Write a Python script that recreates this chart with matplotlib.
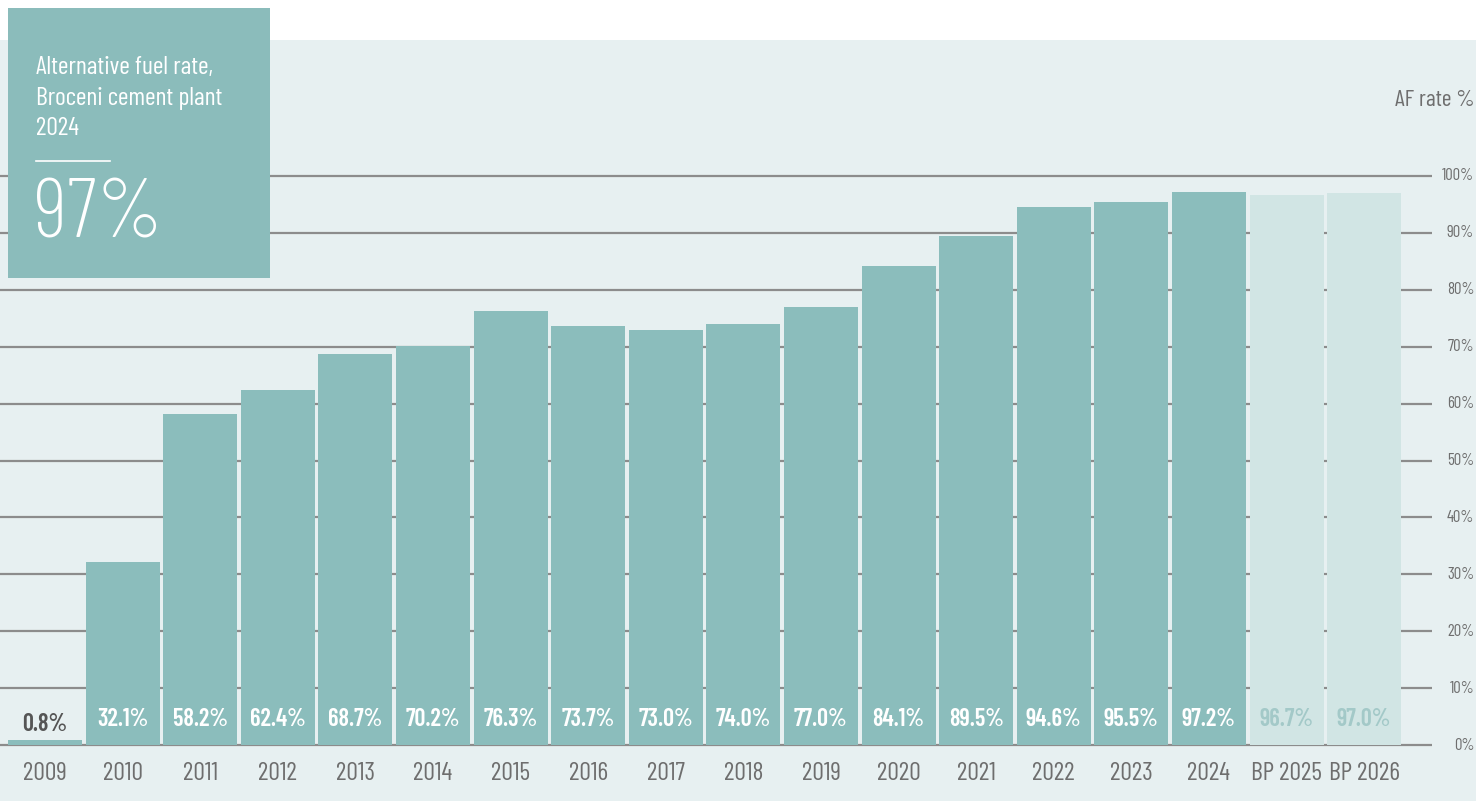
import matplotlib
matplotlib.use('Agg')
import matplotlib.pyplot as plt
from matplotlib.patches import Rectangle

# data
years = ['2009', '2010', '2011', '2012', '2013', '2014', '2015', '2016', '2017',
         '2018', '2019', '2020', '2021', '2022', '2023', '2024', 'BP 2025', 'BP 2026']
af_rate = [0.8, 32.1, 58.2, 62.4, 68.7, 70.2, 76.3, 73.7, 73.0,
           74.0, 77.0, 84.1, 89.5, 94.6, 95.5, 97.2, 96.7, 97.0]
is_plan = [y.startswith('BP') for y in years]
grid_levels = [0, 10, 20, 30, 40, 50, 60, 70, 80, 90, 100]

# colours
BAR = '#8bbdbc'
BAR_PLAN = '#d1e5e4'
PANEL = '#e7f0f1'
GRID = '#8c8c8c'
GREY_TXT = '#6e6e6e'

plt.rcParams['font.family'] = ['Barlow Condensed', 'Roboto Condensed', 'DejaVu Sans']

W, H = 1476, 801
fig = plt.figure(figsize=(W / 100, H / 100), dpi=100)
fig.patch.set_facecolor('white')
ax = fig.add_axes([0, 0, 1, 1])
ax.axis('off')

# pixel mapping: bar centre 0 -> x=45px, step 77.6px ; 0% -> y=745px, 100% -> y=176px
step = 77.6
ypp = (745 - 176) / 100.0
ax.set_xlim(-45 / step, (W - 45) / step)
ax.set_ylim(-(H - 745) / ypp, 745 / ypp)

# background panel
ax.add_patch(Rectangle((0, 0), 1, (H - 40) / H, transform=ax.transAxes,
                       facecolor=PANEL, edgecolor='none', zorder=0))

# grid lines
xr = (1432 - 45) / step
ax.hlines(grid_levels, -45 / step, xr, color=GRID, lw=1.6, zorder=1)
for g in grid_levels:
    ax.text((1474 - 45) / step, g, f'{g}%', ha='right', va='center',
            fontsize=12, color=GREY_TXT, zorder=3)
ax.text((1474 - 45) / step, (745 - 100) / ypp, 'AF rate %', ha='right', va='center',
        fontsize=17, color=GREY_TXT, zorder=3)

# bars
xs = list(range(len(years)))
colors = [BAR_PLAN if p else BAR for p in is_plan]
ax.bar(xs, af_rate, width=0.955, color=colors, zorder=2)

label_y = (745 - 719) / ypp
year_y = -(773 - 745) / ypp
for x, v, p, yr in zip(xs, af_rate, is_plan, years):
    if p:
        c = '#a3c9c8'
    elif v < 5:
        c = '#555555'
    else:
        c = 'white'
    ly = label_y if v >= 5 else v + 0.7
    ax.text(x, ly, f'{v:.1f}%', ha='center', va='bottom' if v < 5 else 'center',
            fontsize=17.5, fontweight=600, color=c, zorder=3)
    ax.text(x, year_y, yr, ha='center', va='center',
            fontsize=18.5, color=GREY_TXT, zorder=3)

# highlight box
ax.add_patch(Rectangle((8 / W, 1 - 278 / H), 262 / W, 270 / H, transform=ax.transAxes,
                       facecolor='#8bbcbb', edgecolor='none', zorder=5))
ax.text(36 / W, 1 - 56 / H, 'Alternative fuel rate,\nBroceni cement plant\n2024',
        transform=ax.transAxes, ha='left', va='top', fontsize=18.5, color='white',
        linespacing=1.42, zorder=6)
ax.plot([36 / W, 110 / W], [1 - 161 / H, 1 - 161 / H], transform=ax.transAxes,
        color='white', lw=1.2, zorder=6)
ax.text(34 / W, 1 - 217 / H, '97%', transform=ax.transAxes, ha='left', va='center',
        fontsize=61, color='white', fontweight=275, zorder=6)

fig.savefig('out.png', dpi=100, facecolor=fig.get_facecolor())
